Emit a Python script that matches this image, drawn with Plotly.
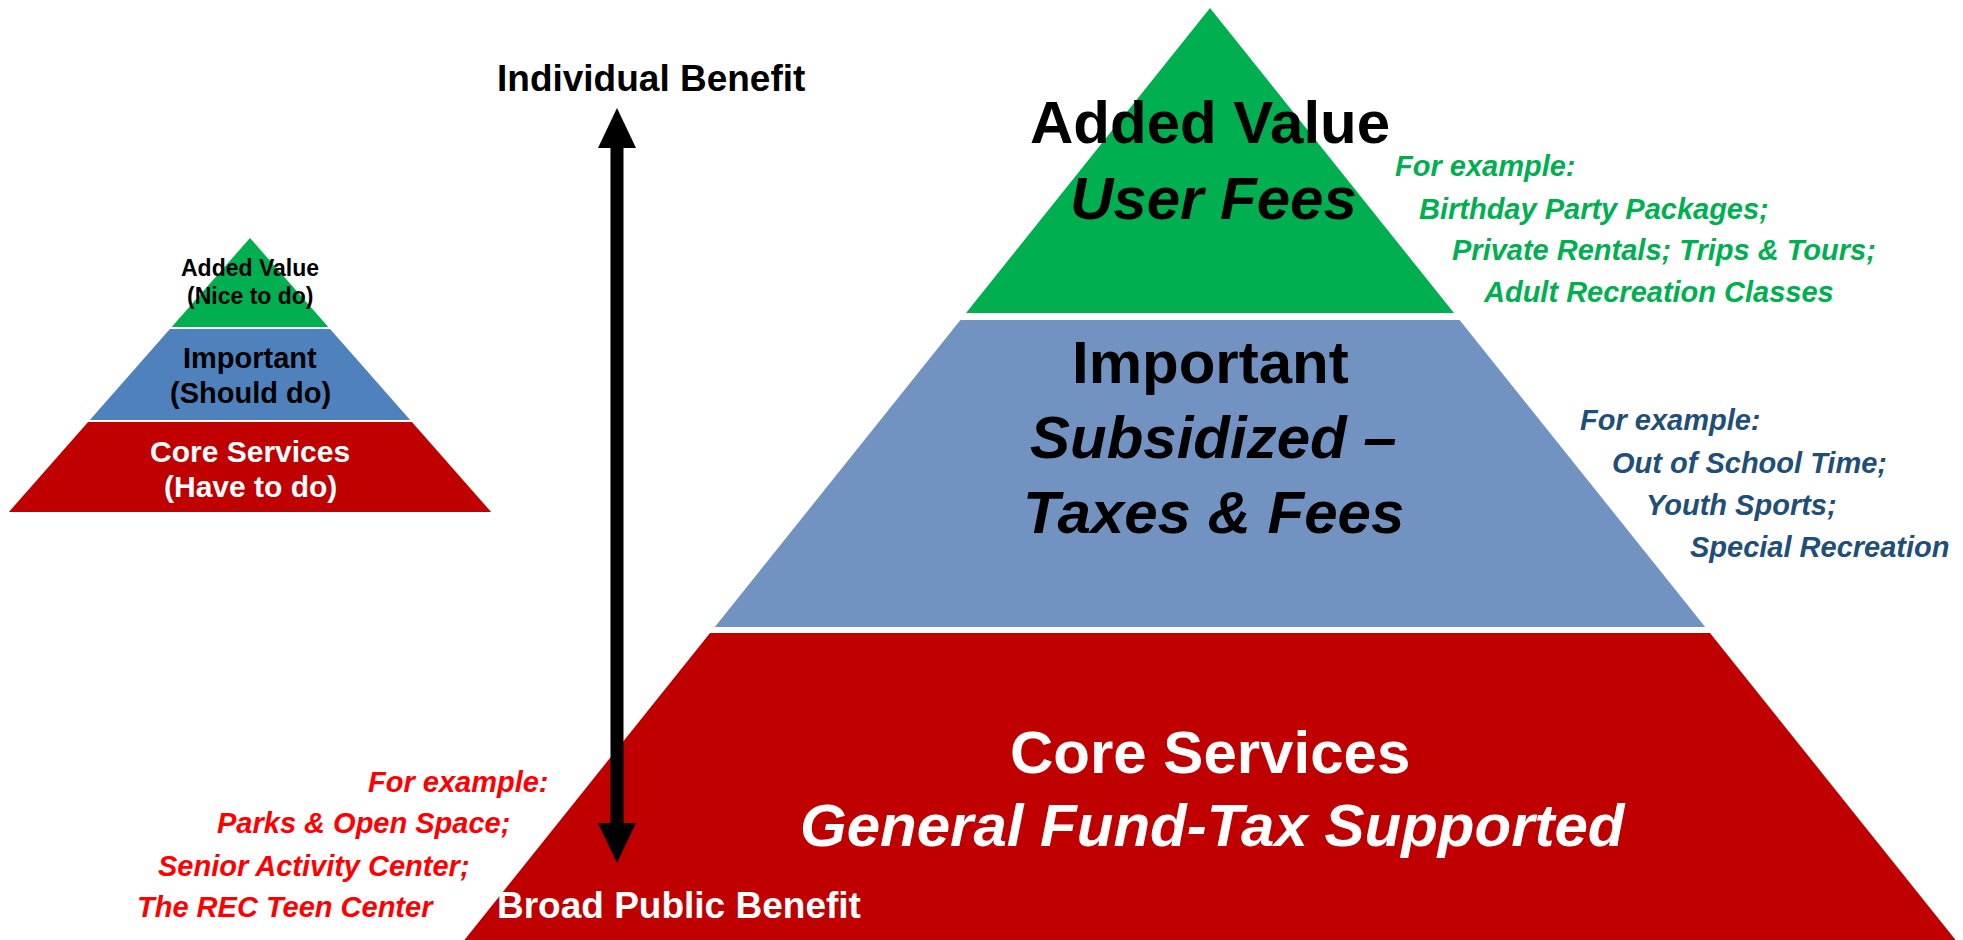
import plotly.graph_objects as go

# ---------------- data ----------------
tiers = ["Added Value", "Important", "Core Services"]
tier_funding = [["User Fees"], ["Subsidized –", "Taxes & Fees"], ["General Fund-Tax Supported"]]
small_subtitles = ["(Nice to do)", "(Should do)", "(Have to do)"]
examples_added = ["For example:", "Birthday Party Packages;", "Private Rentals; Trips & Tours;", "Adult Recreation Classes"]
examples_important = ["For example:", "Out of School Time;", "Youth Sports;", "Special Recreation"]
examples_core = ["For example:", "Parks & Open Space;", "Senior Activity Center;", "The REC Teen Center"]
axis_top_label = "Individual Benefit"
axis_bottom_label = "Broad Public Benefit"

# ---------------- styles / layout ----------------
W, H = 1963, 940
PAGE_MARGIN = 8  # default body margin of the written html page
BIG_COLORS = ["#00B050", "#7293C2", "#C00000"]
SMALL_COLORS = ["#00B050", "#4F81BD", "#C00000"]
BIG_TEXT_COLORS = ["#000000", "#000000", "#FFFFFF"]
SMALL_TEXT_COLORS = ["#000000", "#000000", "#FFFFFF"]
EX_COLORS = ["#00B050", "#1F4E79", "#FF0000"]
HEAD = "Liberation Sans, Arial, sans-serif"
EXFONT = "Liberation Sans Narrow, Arial Narrow, Liberation Sans, sans-serif"
EX_SIZE = 29

big = dict(cx=1210, apex=8, slope=0.80, bands=[(8, 313), (320, 627), (633, 980)])
small = dict(cx=250, apex=238, slope=0.88, bands=[(238, 327), (329, 420), (422, 512)])

fig = go.Figure()


def add_pyramid(p, colors):
    for (y0, y1), c in zip(p["bands"], colors):
        hw0 = (y0 - p["apex"]) * p["slope"]
        hw1 = (y1 - p["apex"]) * p["slope"]
        xs = [p["cx"] - hw0, p["cx"] + hw0, p["cx"] + hw1, p["cx"] - hw1, p["cx"] - hw0]
        ys = [y0, y0, y1, y1, y0]
        fig.add_trace(go.Scatter(x=xs, y=ys, fill="toself", fillcolor=c, mode="lines",
                                 line=dict(width=0, color=c), hoverinfo="skip", showlegend=False))


add_pyramid(big, BIG_COLORS)
add_pyramid(small, SMALL_COLORS)

ann = []


def txt(x, y, s, size, color, family=HEAD, bold=True, italic=False, xanchor="center"):
    t = s
    if bold:
        t = "<b>" + t + "</b>"
    if italic:
        t = "<i>" + t + "</i>"
    ann.append(dict(x=x, y=y, xref="x", yref="y", text=t, showarrow=False, xanchor=xanchor,
                    yanchor="middle", font=dict(family=family, size=size, color=color)))


# big pyramid labels
big_title_y = [122, 362, 752]
big_sub_y = [[198], [437, 512], [825]]
for i, name in enumerate(tiers):
    txt(big["cx"], big_title_y[i], name, 60, BIG_TEXT_COLORS[i])
    for line, yy in zip(tier_funding[i], big_sub_y[i]):
        txt(big["cx"] + 3, yy, line, 60, BIG_TEXT_COLORS[i], italic=True)

# small pyramid labels
small_title_y = [268, 358, 451]
small_sub_y = [296, 393, 486]
small_sizes = [23, 29, 30]
for i, name in enumerate(tiers):
    txt(small["cx"], small_title_y[i], name, small_sizes[i], SMALL_TEXT_COLORS[i])
    txt(small["cx"], small_sub_y[i], small_subtitles[i], small_sizes[i], SMALL_TEXT_COLORS[i])

# examples
ex_added_x = [1393, 1417, 1450, 1481]
ex_added_y = [166, 209, 250, 292]
for s, x, y in zip(examples_added, ex_added_x, ex_added_y):
    txt(x, y, s, EX_SIZE, EX_COLORS[0], family=EXFONT, italic=True, xanchor="left")

ex_imp_x = [1578, 1610, 1644, 1688]
ex_imp_y = [420, 463, 505, 547]
for s, x, y in zip(examples_important, ex_imp_x, ex_imp_y):
    txt(x, y, s, EX_SIZE, EX_COLORS[1], family=EXFONT, italic=True, xanchor="left")

ex_core_x = [551, 512, 472, 436]
ex_core_y = [782, 823, 866, 907]
for s, x, y in zip(examples_core, ex_core_x, ex_core_y):
    txt(x, y, s, EX_SIZE, EX_COLORS[2], family=EXFONT, italic=True, xanchor="right")

# benefit axis arrow
AX_X, AX_TOP, AX_BOT, HEAD_LEN, HEAD_HALF = 617, 108, 863, 40, 19
fig.add_trace(go.Scatter(x=[AX_X, AX_X], y=[AX_TOP + HEAD_LEN - 2, AX_BOT - HEAD_LEN + 2], mode="lines",
                         line=dict(color="black", width=13), hoverinfo="skip", showlegend=False))
for tip, base in [(AX_TOP, AX_TOP + HEAD_LEN), (AX_BOT, AX_BOT - HEAD_LEN)]:
    fig.add_trace(go.Scatter(x=[AX_X - HEAD_HALF, AX_X + HEAD_HALF, AX_X, AX_X - HEAD_HALF],
                             y=[base, base, tip, base], fill="toself", fillcolor="black", mode="lines",
                             line=dict(width=0, color="black"), hoverinfo="skip", showlegend=False))

txt(651, 78, axis_top_label, 37, "#000000")
txt(495, 905, axis_bottom_label, 37, "#FFFFFF", xanchor="left")

fw, fh = W - PAGE_MARGIN, H - PAGE_MARGIN
fig.update_layout(
    width=fw, height=fh,
    margin=dict(l=0, r=0, t=0, b=0),
    paper_bgcolor="white", plot_bgcolor="white",
    xaxis=dict(range=[PAGE_MARGIN, PAGE_MARGIN + fw], visible=False, fixedrange=True),
    yaxis=dict(range=[PAGE_MARGIN + fh, PAGE_MARGIN], visible=False, fixedrange=True),
    annotations=ann,
    showlegend=False,
)

fig.write_html("out.html", config={"displayModeBar": False})
